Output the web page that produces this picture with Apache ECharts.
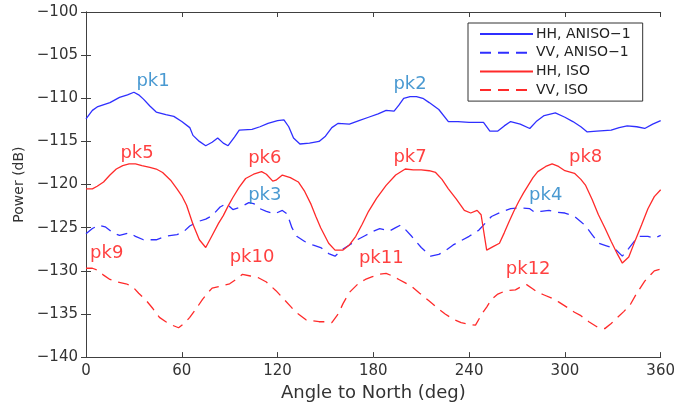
<!DOCTYPE html>
<html>
<head>
<meta charset="utf-8">
<script src="https://cdn.jsdelivr.net/npm/echarts@6/dist/echarts.min.js"></script>
<style>
	html, body { margin: 0; padding: 0; background: #fff; }
	#main { width: 678px; height: 407px; }
</style>
</head>
<body>
<div id="main"></div>
<script>
// series values, [angle (deg), power (dB)]
var hhAniso = [[0,-112.4],[4,-111.4],[7,-111.0],[15,-110.5],[21,-109.9],[26,-109.6],[30,-109.3],[33,-109.6],[36,-110.1],[40,-110.9],[44,-111.6],[50,-111.9],[55,-112.1],[60,-112.7],[65,-113.4],[67,-114.3],[71,-115.0],[75,-115.5],[79,-115.1],[82.5,-114.6],[86,-115.2],[89,-115.5],[93,-114.5],[96,-113.7],[104,-113.6],[109,-113.3],[114,-112.9],[120,-112.6],[124,-112.5],[127,-113.3],[130,-114.6],[134,-115.3],[140,-115.2],[146,-115.0],[150,-114.4],[154,-113.4],[158,-112.9],[165,-113.0],[171,-112.6],[177,-112.2],[183,-111.8],[188,-111.4],[193,-111.5],[196,-110.8],[199,-110.0],[203,-109.8],[207,-109.8],[211,-110.0],[215,-110.5],[221,-111.3],[227,-112.7],[233,-112.7],[240,-112.8],[249,-112.8],[253,-113.8],[258,-113.8],[262,-113.2],[266,-112.7],[272,-113.0],[278,-113.5],[282,-112.7],[287,-112.0],[294,-111.7],[300,-112.2],[305,-112.7],[310,-113.3],[314,-113.9],[320,-113.8],[329,-113.7],[334,-113.4],[339,-113.2],[345,-113.3],[350,-113.5],[355,-113.0],[360,-112.6]];
var vvAniso = [[0,-125.7],[4,-125.1],[8,-124.7],[12,-124.9],[17,-125.6],[21,-125.9],[27,-125.6],[31,-126.0],[36,-126.4],[44,-126.4],[50,-126.0],[57,-125.8],[61,-125.5],[65,-124.8],[70,-124.3],[75,-124.0],[79,-123.6],[84,-122.6],[88,-122.2],[92,-122.9],[97,-122.6],[102,-122.1],[105,-122.2],[109,-122.8],[113,-123.1],[118,-123.4],[123,-123.0],[126,-123.4],[129,-125.0],[132,-126.0],[137,-126.6],[142,-127.0],[147,-127.3],[152,-128.0],[156,-128.3],[160,-127.6],[165,-127.0],[170,-126.4],[175,-125.9],[180,-125.4],[184,-125.1],[190,-125.4],[194,-125.0],[197,-124.7],[200,-125.2],[204,-126.0],[210,-127.3],[216,-128.3],[221,-128.1],[225,-127.7],[230,-127.0],[235,-126.5],[240,-126.0],[246,-125.3],[250,-124.5],[254,-123.7],[260,-123.2],[266,-122.8],[272,-122.7],[278,-122.8],[281,-123.2],[285,-123.1],[290,-123.0],[295,-123.2],[300,-123.3],[306,-123.7],[310,-124.3],[313,-124.8],[317,-125.8],[321,-126.8],[326,-127.1],[331,-127.4],[336,-128.3],[340,-127.4],[346,-126.0],[352,-126.0],[356,-126.2],[360,-125.9]];
var hhIso = [[0,-120.5],[4,-120.5],[7,-120.2],[11,-119.7],[15,-118.9],[19,-118.2],[23,-117.8],[27,-117.6],[31,-117.6],[35,-117.8],[40,-118.0],[44,-118.2],[48,-118.6],[53,-119.5],[57,-120.5],[60,-121.3],[63,-122.4],[67,-124.6],[71,-126.4],[75,-127.3],[79,-125.9],[83,-124.5],[86,-123.6],[89,-122.5],[92,-121.5],[96,-120.3],[100,-119.3],[105,-118.8],[110,-118.5],[113,-118.8],[117,-119.6],[119,-119.5],[123,-118.9],[128,-119.2],[133,-119.7],[137,-120.8],[141,-122.3],[144,-123.7],[147,-125.0],[152,-126.8],[156,-127.6],[161,-127.6],[165,-127.0],[169,-126.0],[173,-124.6],[177,-123.1],[182,-121.6],[188,-120.1],[194,-118.9],[200,-118.2],[205,-118.3],[210,-118.3],[215,-118.4],[219,-118.6],[223,-119.4],[227,-120.5],[232,-121.7],[237,-123.0],[241,-123.3],[245,-123.0],[247.5,-123.5],[251,-127.6],[255,-127.2],[259,-126.8],[262,-125.6],[265,-124.3],[268,-123.1],[271,-122.0],[274,-121.0],[277,-120.1],[280,-119.2],[283,-118.5],[288,-117.9],[292,-117.6],[296,-117.9],[300,-118.4],[306,-118.7],[310,-119.4],[313,-120.1],[317,-121.7],[321,-123.5],[325,-125.0],[329,-126.6],[333,-128.1],[336,-129.1],[340,-128.4],[344,-126.5],[348,-124.7],[352,-122.8],[356,-121.4],[360,-120.6]];
var vvIso = [[0,-129.7],[4,-129.7],[7,-129.9],[11,-130.5],[15,-131.0],[20,-131.3],[25,-131.5],[29,-131.8],[33,-132.6],[38,-133.5],[42,-134.4],[46,-135.4],[50,-135.9],[54,-136.3],[58,-136.6],[62,-136.0],[65,-135.4],[69,-134.4],[73,-133.3],[76,-132.6],[79,-132.0],[84,-131.8],[90,-131.5],[94,-131.0],[98,-130.4],[103,-130.6],[108,-130.8],[113,-131.3],[119,-132.3],[124,-133.3],[129,-134.3],[133,-135.0],[138,-135.7],[142,-135.8],[146,-135.9],[150,-135.9],[154,-136.0],[158,-135.0],[161,-133.8],[165,-132.5],[171,-131.4],[175,-131.0],[179,-130.7],[184,-130.4],[188,-130.3],[192,-130.6],[196,-131.0],[200,-131.4],[204,-131.8],[209,-132.6],[215,-133.5],[220,-134.3],[225,-135.0],[230,-135.6],[235,-136.0],[240,-136.2],[244,-136.3],[248,-135.0],[251,-134.2],[254,-133.3],[258,-132.7],[263,-132.3],[269,-132.2],[273,-131.8],[276,-131.6],[280,-132.1],[283,-132.5],[287,-132.8],[291,-133.1],[296,-133.6],[302,-134.3],[306,-134.8],[310,-135.2],[315,-135.9],[321,-136.6],[325,-136.7],[329,-136.1],[333,-135.4],[337,-134.7],[341,-133.9],[345,-132.6],[350,-131.2],[354,-130.4],[356,-130.0],[360,-129.8]];

var seriesNames = ['HH, ANISO\u22121', 'VV, ANISO\u22121', 'HH, ISO', 'VV, ISO'];

// peak annotations
var pkNames = ['pk1', 'pk2', 'pk3', 'pk4', 'pk5', 'pk6', 'pk7', 'pk8', 'pk9', 'pk10', 'pk11', 'pk12'];
var pkX = [42, 203, 112, 288, 32, 112, 203, 313, 13, 104, 185, 277];
var pkY = [-108.0, -108.4, -121.2, -121.2, -116.4, -117.0, -116.8, -116.8, -128.0, -128.4, -128.6, -129.8];

var BLUE = '#2f2fff';
var RED = '#ff2a2a';
var PK_BLUE = '#1b7fc6';
var PK_RED = '#ff1010';
var AXIS = '#404040';
var FONT = 'DejaVu Sans';

var myChart = echarts.init(document.getElementById('main'));

function minus(v) {
	return String(v).replace('-', '\u2212');
}

function lineSeries(name, data, color, dashed) {
	return {
		name: name,
		type: 'line',
		data: data,
		symbol: 'none',
		smooth: false,
		silent: true,
		lineStyle: {
			color: color,
			width: 1.3,
			type: dashed ? [11, 7] : 'solid'
		},
		itemStyle: { color: color }
	};
}

var pkData = [];
for (var i = 0; i < pkNames.length; i++) {
	pkData.push({
		value: [pkX[i], pkY[i]],
		name: pkNames[i],
		label: { color: i < 4 ? PK_BLUE : PK_RED }
	});
}

var option = {
	animation: false,
	backgroundColor: '#fff',
	textStyle: { fontFamily: FONT },
	grid: { left: 86, right: 15, top: 12, bottom: 47 },
	legend: {
		data: seriesNames,
		orient: 'vertical',
		left: 468,
		top: 23,
		padding: [4, 12, 4, 11],
		itemWidth: 53,
		itemHeight: 12,
		itemGap: 4.7,
		backgroundColor: '#fff',
		borderColor: '#333',
		borderWidth: 1,
		borderRadius: 0,
		selectedMode: false,
		itemStyle: { opacity: 0 },
		textStyle: { fontFamily: FONT, fontSize: 14, color: '#222', padding: [0, 0, 0, -2] }
	},
	xAxis: [{
		type: 'value',
		min: 0,
		max: 360,
		interval: 60,
		name: 'Angle to North (deg)',
		nameLocation: 'middle',
		nameGap: 24,
		nameTextStyle: { fontFamily: FONT, fontSize: 18, color: '#333' },
		axisLine: { show: true, lineStyle: { color: AXIS, width: 1 } },
		axisTick: { show: true, inside: true, length: 5, lineStyle: { color: AXIS } },
		axisLabel: { fontFamily: FONT, fontSize: 15, color: '#333', margin: 7, formatter: minus },
		splitLine: { show: false }
	}, {
		type: 'value',
		position: 'top',
		min: 0,
		max: 360,
		interval: 60,
		axisLine: { show: true, lineStyle: { color: AXIS, width: 1 } },
		axisTick: { show: true, inside: true, length: 5, lineStyle: { color: AXIS } },
		axisLabel: { show: false },
		splitLine: { show: false }
	}],
	yAxis: [{
		type: 'value',
		min: -140,
		max: -100,
		interval: 5,
		name: 'Power (dB)',
		nameLocation: 'middle',
		nameGap: 60,
		nameTextStyle: { fontFamily: FONT, fontSize: 14, color: '#333' },
		axisLine: { show: true, lineStyle: { color: AXIS, width: 1 } },
		axisTick: { show: true, inside: true, length: 5, lineStyle: { color: AXIS } },
		axisLabel: { fontFamily: FONT, fontSize: 15, color: '#333', margin: 8, formatter: minus },
		splitLine: { show: false }
	}, {
		type: 'value',
		position: 'right',
		min: -140,
		max: -100,
		interval: 5,
		axisLine: { show: true, lineStyle: { color: AXIS, width: 1 } },
		axisTick: { show: true, inside: true, length: 5, lineStyle: { color: AXIS } },
		axisLabel: { show: false },
		splitLine: { show: false }
	}],
	series: [
		lineSeries(seriesNames[0], hhAniso, BLUE, false),
		lineSeries(seriesNames[1], vvAniso, BLUE, true),
		lineSeries(seriesNames[2], hhIso, RED, false),
		lineSeries(seriesNames[3], vvIso, RED, true),
		{
			name: 'peaks',
			type: 'scatter',
			data: pkData,
			symbol: 'circle',
			symbolSize: 1,
			silent: true,
			itemStyle: { color: 'rgba(0,0,0,0)' },
			label: {
				show: true,
				position: 'inside',
				formatter: '{b}',
				fontFamily: FONT,
				fontSize: 18
			},
			z: 5
		}
	]
};

myChart.setOption(option);
</script>
</body>
</html>
